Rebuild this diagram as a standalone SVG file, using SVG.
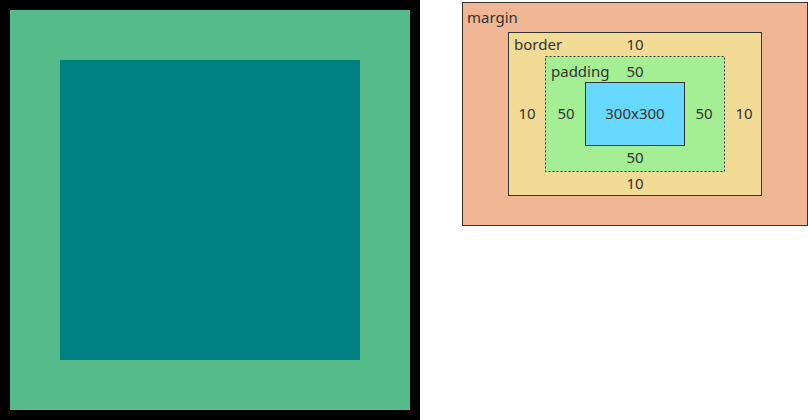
<svg xmlns="http://www.w3.org/2000/svg" width="808" height="420" viewBox="0 0 808 420">
<style>
text{font-family:"Source Sans Pro","Noto Sans","Open Sans",sans-serif;font-size:15px;fill:#333}
.c{text-anchor:middle}
.box{stroke:#333;stroke-width:1}
</style>
<rect width="808" height="420" fill="#fff"/>
<g id="demo">
<rect x="0" y="0" width="420" height="420" fill="#000"/>
<rect x="10" y="10" width="400" height="400" fill="#55bb8a"/>
<rect x="60" y="60" width="300" height="300" fill="#008080"/>
</g>
<g id="margin">
<rect class="box" x="462.5" y="2.5" width="345" height="223" fill="#f1b795"/>
<text x="467" y="23">margin</text>
</g>
<g id="border">
<rect class="box" x="508.5" y="32.5" width="253" height="163" fill="#f1db95"/>
<text x="514" y="50">border</text>
<text class="c" x="635" y="50">10</text>
<text class="c" x="527" y="119">10</text>
<text class="c" x="744" y="119">10</text>
<text class="c" x="635" y="189">10</text>
</g>
<g id="padding">
<rect class="box" x="545.5" y="56.5" width="179" height="115" fill="#a4ef94" stroke-dasharray="2,2"/>
<text x="551" y="77">padding</text>
<text class="c" x="635" y="77">50</text>
<text class="c" x="566" y="119">50</text>
<text class="c" x="704" y="119">50</text>
<text class="c" x="635" y="163">50</text>
</g>
<g id="content">
<rect class="box" x="585.5" y="82.5" width="99" height="63" fill="#67d8fe"/>
<text class="c" x="635" y="119">300x300</text>
</g>
<g id="connectors"/>
</svg>
